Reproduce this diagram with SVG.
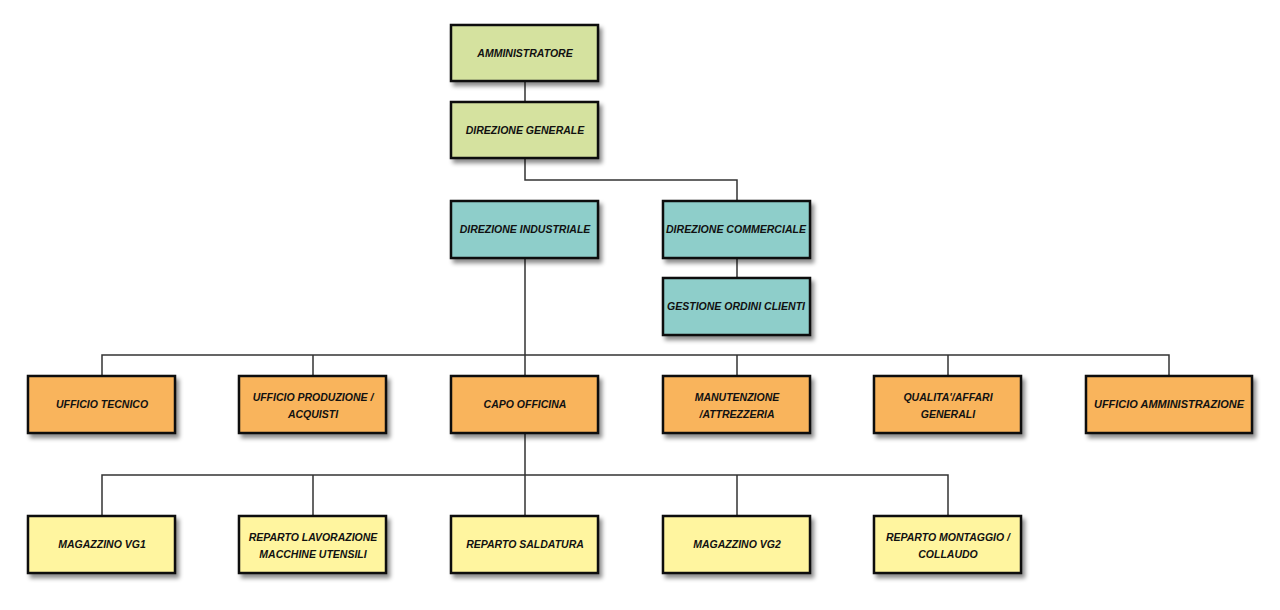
<svg xmlns="http://www.w3.org/2000/svg" width="1280" height="610" viewBox="0 0 1280 610">
<defs>
<filter id="sh" x="-10%" y="-10%" width="130%" height="140%">
<feDropShadow dx="3" dy="4" stdDeviation="2" flood-color="#000" flood-opacity="0.45"/>
</filter>
</defs>
<style>
.b{stroke:#111;stroke-width:2.5;filter:url(#sh)}
.g{fill:#D5E29F}.t{fill:#8ECECA}.o{fill:#F9B45B}.y{fill:#FFF59F}
text{font-family:"Liberation Sans",Arial,sans-serif;font-weight:bold;font-style:italic;font-size:10.5px;fill:#111;text-anchor:middle}
.c{fill:none;stroke:#333;stroke-width:1.5}
</style>
<rect width="1280" height="610" fill="#fff"/>
<g id="connectors">
<path class="c" d="M525 81V102M525 158V180H737V201M737 258V278M525 258V376M102 376V355H1169V376M313 355V376M737 355V376M948 355V376M525 433V516M102 516V475H948V516M313 475V516M737 475V516"/>
</g>
<g id="amministratore"><rect class="b g" x="451" y="25" width="147" height="56"/><text x="525" y="57">AMMINISTRATORE</text></g>
<g id="direzione-generale"><rect class="b g" x="451" y="102" width="147" height="56"/><text x="525" y="134">DIREZIONE GENERALE</text></g>
<g id="direzione-industriale"><rect class="b t" x="451" y="201" width="147" height="57"/><text x="525" y="233">DIREZIONE INDUSTRIALE</text></g>
<g id="direzione-commerciale"><rect class="b t" x="663" y="201" width="147" height="57"/><text x="736" y="233" textLength="140" lengthAdjust="spacingAndGlyphs">DIREZIONE COMMERCIALE</text></g>
<g id="gestione-ordini"><rect class="b t" x="663" y="278" width="147" height="57"/><text x="736" y="310" textLength="138" lengthAdjust="spacingAndGlyphs">GESTIONE ORDINI CLIENTI</text></g>
<g id="ufficio-tecnico"><rect class="b o" x="28" y="376" width="147" height="57"/><text x="102" y="408">UFFICIO TECNICO</text></g>
<g id="ufficio-produzione"><rect class="b o" x="239" y="376" width="147" height="57"/><text x="313" y="401">UFFICIO PRODUZIONE /</text><text x="313" y="418">ACQUISTI</text></g>
<g id="capo-officina"><rect class="b o" x="451" y="376" width="147" height="57"/><text x="525" y="408">CAPO OFFICINA</text></g>
<g id="manutenzione"><rect class="b o" x="663" y="376" width="147" height="57"/><text x="737" y="401">MANUTENZIONE</text><text x="737" y="418">/ATTREZZERIA</text></g>
<g id="qualita"><rect class="b o" x="874" y="376" width="147" height="57"/><text x="948" y="401">QUALITA'/AFFARI</text><text x="948" y="418">GENERALI</text></g>
<g id="ufficio-amministrazione"><rect class="b o" x="1086" y="376" width="166" height="57"/><text x="1169" y="408" textLength="150" lengthAdjust="spacingAndGlyphs">UFFICIO AMMINISTRAZIONE</text></g>
<g id="magazzino-vg1"><rect class="b y" x="28" y="516" width="147" height="57"/><text x="102" y="548">MAGAZZINO VG1</text></g>
<g id="reparto-lavorazione"><rect class="b y" x="239" y="516" width="147" height="57"/><text x="313" y="541">REPARTO LAVORAZIONE</text><text x="313" y="558">MACCHINE UTENSILI</text></g>
<g id="reparto-saldatura"><rect class="b y" x="451" y="516" width="147" height="57"/><text x="525" y="548">REPARTO SALDATURA</text></g>
<g id="magazzino-vg2"><rect class="b y" x="663" y="516" width="147" height="57"/><text x="737" y="548">MAGAZZINO VG2</text></g>
<g id="reparto-montaggio"><rect class="b y" x="874" y="516" width="147" height="57"/><text x="948" y="541">REPARTO MONTAGGIO /</text><text x="948" y="558">COLLAUDO</text></g>
</svg>
